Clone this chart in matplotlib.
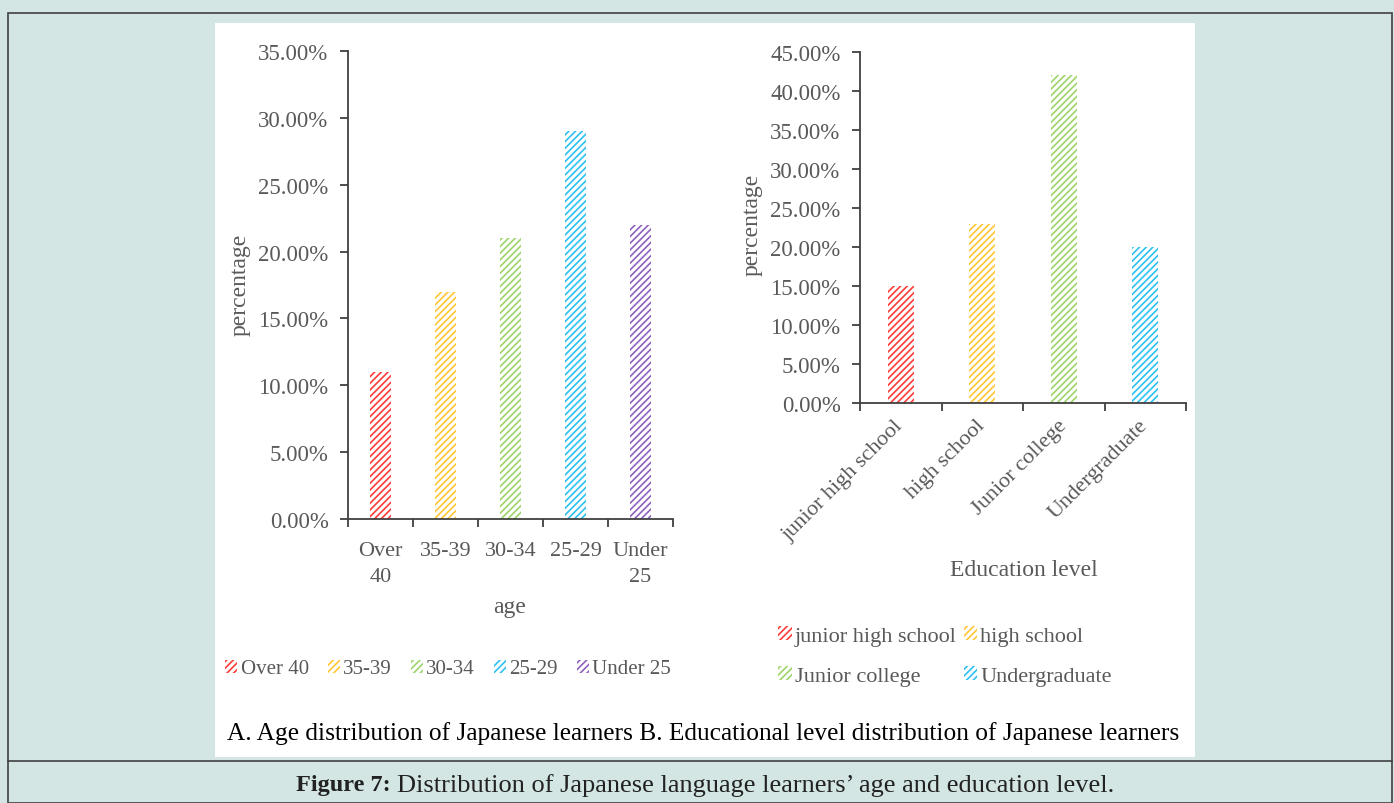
import matplotlib.pyplot as plt
from matplotlib.patches import Rectangle, Patch
from matplotlib.lines import Line2D
import numpy as np

age_groups = ['Over 40', '35-39', '30-34', '25-29', 'Under 25']
age_ticks = ['Over\n40', '35-39', '30-34', '25-29', 'Under\n25']
age_share = [0.11, 0.17, 0.21, 0.29, 0.22]

edu_levels = ['junior high school', 'high school', 'Junior college', 'Undergraduate']
edu_share = [0.15, 0.23, 0.42, 0.20]

age_colors = ['#ff3b3b', '#ffc634', '#9dd46a', '#2cc0f0', '#9060c0']
edu_colors = ['#ff3b3b', '#ffc634', '#9dd46a', '#2cc0f0']

plt.rcParams['font.family'] = ['Liberation Serif', 'DejaVu Serif']
plt.rcParams['hatch.linewidth'] = 1.2
txt = '#595959'
W, H = 1394, 804

fig = plt.figure(figsize=(W / 100, H / 100), dpi=100)
fig.patch.set_facecolor('#d3e6e4')

# frame, white panel and caption divider
fig.add_artist(Rectangle((8 / W, 0), 1384 / W, 1 - 14 / H, transform=fig.transFigure,
                         fill=False, ec='#404040', lw=1.2))
fig.add_artist(Line2D([8 / W, 1392 / W], [1 - 762 / H] * 2, transform=fig.transFigure,
                      color='#404040', lw=1.2))
fig.add_artist(Rectangle((215 / W, 1 - 758 / H), 980 / W, 734 / H, transform=fig.transFigure,
                         fc='white', ec='none', zorder=0))


def style_axes(ax, n):
    for s in ['top', 'right']:
        ax.spines[s].set_visible(False)
    for s in ['left', 'bottom']:
        ax.spines[s].set_color('#404040')
        ax.spines[s].set_linewidth(1.3)
    ax.set_xlim(-0.5, n - 0.5)
    ax.set_xticks(np.arange(n))
    ax.set_xticks(np.arange(n + 1) - 0.5, minor=True)
    ax.tick_params(axis='x', which='major', length=0, labelsize=16, labelcolor=txt, pad=16)
    ax.tick_params(axis='x', which='minor', length=6, width=1.3, color='#404040', direction='out')
    ax.tick_params(axis='y', length=6, width=1.3, color='#404040', labelsize=16.5,
                   labelcolor=txt, pad=8)
    ax.yaxis.set_major_formatter(plt.FuncFormatter(lambda v, p: f'{v * 100:.2f}%'))
    ax.set_facecolor('none')


# left: age distribution
ax1 = fig.add_axes([348 / W, 1 - 520 / H, 325 / W, 468 / H])
ax1.bar(np.arange(len(age_share)), age_share, width=0.32, color='white',
        edgecolor=age_colors, linewidth=0, hatch='/////')
ax1.set_ylim(0, 0.35)
ax1.set_yticks(np.arange(0, 0.351, 0.05))
style_axes(ax1, len(age_share))
ax1.set_xticklabels(age_ticks, linespacing=1.5, va='top')
fig.text(240 / W, 1 - 285 / H, 'percentage', rotation=90, ha='center', va='center',
         fontsize=17, color=txt)
fig.text(510 / W, 1 - 608 / H, 'age', ha='center', va='center', fontsize=17, color=txt)

h1 = [Patch(fc='white', ec=c, lw=0, hatch='/////') for c in age_colors]
fig.legend(h1, age_groups, loc='center', bbox_to_anchor=(448 / W, 1 - 670 / H), ncol=5,
           frameon=False, fontsize=15, labelcolor=txt, handlelength=0.6, handleheight=0.6,
           handletextpad=0.15, columnspacing=0.9)

# right: education level distribution
ax2 = fig.add_axes([860 / W, 1 - 404 / H, 326 / W, 351 / H])
ax2.bar(np.arange(len(edu_share)), edu_share, width=0.32, color='white',
        edgecolor=edu_colors, linewidth=0, hatch='/////')
ax2.set_ylim(0, 0.45)
ax2.set_yticks(np.arange(0, 0.451, 0.05))
style_axes(ax2, len(edu_share))
ax2.set_xticklabels(edu_levels, rotation=45, ha='right', rotation_mode='anchor', va='center')
ax2.tick_params(axis='x', which='major', pad=14)
fig.text(752 / W, 1 - 225 / H, 'percentage', rotation=90, ha='center', va='center',
         fontsize=17, color=txt)
fig.text(1024 / W, 1 - 571 / H, 'Education level', ha='center', va='center',
         fontsize=17, color=txt)

# legend fills column-first, so order entries to read row by row
order = [0, 2, 1, 3]
h2 = [Patch(fc='white', ec=edu_colors[i], lw=0, hatch='/////') for i in order]
fig.legend(h2, [edu_levels[i] for i in order], loc='center',
           bbox_to_anchor=(945 / W, 1 - 657 / H), ncol=2,
           frameon=False, fontsize=16, labelcolor=txt, handlelength=0.6, handleheight=0.6,
           handletextpad=0.15, columnspacing=0.3, labelspacing=0.9)

fig.text(703 / W, 1 - 734 / H,
         'A. Age distribution of Japanese learners B. Educational level distribution of Japanese learners',
         ha='center', va='center', fontsize=18.3, color='black')
fig.text(391 / W, 1 - 786 / H, 'Figure 7:', ha='right', va='center', fontsize=17.5,
         fontweight='bold', color='#222222')
fig.text(397 / W, 1 - 786 / H,
         'Distribution of Japanese language learners\u2019 age and education level.',
         ha='left', va='center', fontsize=19, color='#222222')

fig.savefig('out.png', dpi=100, facecolor=fig.get_facecolor())
